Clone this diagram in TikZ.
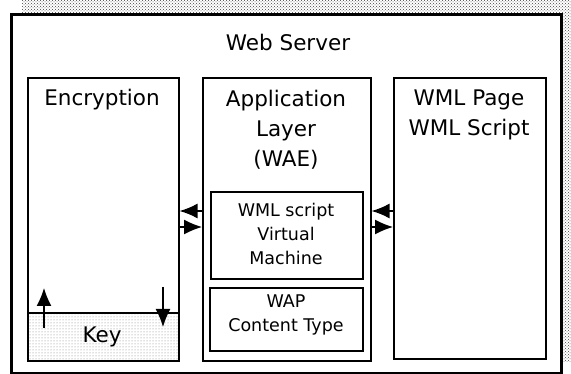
\documentclass[tikz,border=0pt]{standalone}
\usepackage{fontspec}
\setmainfont{DejaVu Sans}
\usetikzlibrary{arrows.meta,patterns,positioning}

\tikzset{
  box/.style={draw,line width=1.6pt,anchor=north west,inner sep=0pt},
  arr/.style={-{Latex[length=18pt,width=15pt]},line width=1.3pt},
  big/.style={font=\fontsize{21.5}{30}\selectfont,align=center},
  small/.style={font=\fontsize{17.5}{24}\selectfont,align=center},
}

\begin{document}
\begin{tikzpicture}[x=1pt,y=-1pt]
  \useasboundingbox (0,0) rectangle (571,374);
  % shadow of the server box
  \fill[pattern=crosshatch dots,pattern color=black!75] (22,0) rectangle (571,362);
  \node[box,fill=white,line width=2.6pt,minimum width=550pt,minimum height=359pt] (server) at (10,13) {};
  \node[big] (servername) at (288,42) {Web Server};

  \node[box,minimum width=151pt,minimum height=283pt] (enc) at (27,77) {};
  \node[box,minimum width=168pt,minimum height=283pt] (app) at (202,77) {};
  \node[box,minimum width=152pt,minimum height=281pt] (wml) at (393,77) {};
  \node[box,minimum width=152pt,minimum height=87pt] (vm) at (210,191) {};
  \node[box,minimum width=153pt,minimum height=63pt] (wap) at (209,287) {};
  \node[box,minimum width=151pt,minimum height=48pt,pattern=dots,pattern color=gray] (key) at (27,312) {};

  \node[big] (enctext) at (102,100) {Encryption};
  \node[big] (apptext) at (286,130) {Application\\Layer\\(WAE)};
  \node[big] (wmltext) at (469,115) {WML Page\\WML Script};
  \node[small] (vmtext) at (286,234) {WML script\\Virtual\\Machine};
  \node[small] (waptext) at (286,315) {WAP\\Content Type};
  \node[big] (keytext) at (102,337) {Key};

  % arrows between the layers
  \draw[arr] (app.west |- 0,211) -- (enc.east |- 0,211);
  \draw[arr] (enc.east |- 0,227) -- (app.west |- 0,227);
  \draw[arr] (wml.west |- 0,211) -- (app.east |- 0,211);
  \draw[arr] (app.east |- 0,227) -- (wml.west |- 0,227);

  % key in and out
  \coordinate (upfrom) at (44,328);
  \coordinate (upto) at (44,288);
  \coordinate (downfrom) at (163,287);
  \coordinate (downto) at (163,327);
  \draw[arr] (upfrom) -- (upto);
  \draw[arr] (downfrom) -- (downto);
\end{tikzpicture}
\end{document}
